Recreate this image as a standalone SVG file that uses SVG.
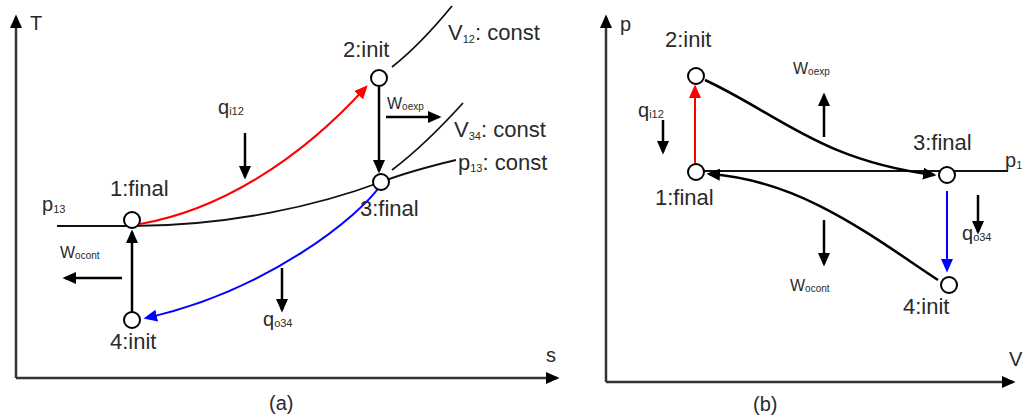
<svg xmlns="http://www.w3.org/2000/svg" width="1023" height="419" viewBox="0 0 1023 419">
<style>
text{font-family:"Liberation Sans",Arial,sans-serif;fill:#2a2a2a}
.lbl{font-size:22px}
.ax{font-size:20px}
.sub{font-size:11px}
.wl{font-size:16px}
.ws{font-size:10px}
.axis{stroke:#333;stroke-width:2.5;fill:none}
.k{stroke:#000;stroke-width:2.5;fill:none}
.thin{stroke:#111;stroke-width:1.8;fill:none}
.red{stroke:#f00;stroke-width:2;fill:none}
.blue{stroke:#00f;stroke-width:2;fill:none}
.node{fill:#fff;stroke:#000;stroke-width:2}
</style>
<defs>
<marker id="ak" markerUnits="userSpaceOnUse" markerWidth="16" markerHeight="14" refX="11" refY="6" orient="auto"><path d="M0,0 L13.5,6 L0,12 z" fill="#000"/></marker>
<marker id="ar" markerUnits="userSpaceOnUse" markerWidth="16" markerHeight="14" refX="11" refY="6" orient="auto"><path d="M0,0 L13.5,6 L0,12 z" fill="#f00"/></marker>
<marker id="ab" markerUnits="userSpaceOnUse" markerWidth="16" markerHeight="14" refX="11" refY="6" orient="auto"><path d="M0,0 L13.5,6 L0,12 z" fill="#00f"/></marker>
</defs>
<g id="panel-a-axes">
<path class="axis" d="M16,378 L16,17" marker-end="url(#ak)"/>
<path class="axis" d="M16,378 L557,378" marker-end="url(#ak)"/>
<text class="ax" x="30" y="30">T</text>
<text class="ax" x="546" y="362">s</text>
<text class="ax" x="269" y="410">(a)</text>
</g>
<g id="connectors-a">
<path class="thin" d="M57,226 L132,226 C230,226 320,205 381,182 C410,171 435,165 456,160"/>
<path class="thin" d="M392,67 Q420,45 452,6"/>
<path class="thin" d="M392,170 Q425,145 463,103"/>
<path class="red" d="M140,224 C220,210 300,160 366,87" marker-end="url(#ar)"/>
<path class="blue" d="M380,186 C360,215 270,290 146,318" marker-end="url(#ab)"/>
<path class="k" d="M132,312 L132,232" marker-end="url(#ak)"/>
<path class="k" d="M379,87 L379,171" marker-end="url(#ak)"/>
<path class="k" d="M386,117 L439,117" marker-end="url(#ak)"/>
<path class="k" d="M122,278 L65,278" marker-end="url(#ak)"/>
<path class="k" d="M245,133 L245,177" marker-end="url(#ak)"/>
<path class="k" d="M282,268 L282,310" marker-end="url(#ak)"/>
</g>
<g id="a-node1"><circle class="node" cx="132" cy="220" r="8"/><text class="lbl" x="110" y="196">1:final</text></g>
<g id="a-node2"><circle class="node" cx="379" cy="78" r="8"/><text class="lbl" x="343" y="57">2:init</text></g>
<g id="a-node3"><circle class="node" cx="381" cy="182" r="8"/><text class="lbl" x="360" y="216">3:final</text></g>
<g id="a-node4"><circle class="node" cx="132" cy="320" r="8"/><text class="lbl" x="110" y="349">4:init</text></g>
<g id="a-labels">
<text class="lbl" x="448" y="40">V<tspan class="sub" dy="3">12</tspan><tspan dy="-3">: const</tspan></text>
<text class="lbl" x="454" y="137">V<tspan class="sub" dy="3">34</tspan><tspan dy="-3">: const</tspan></text>
<text class="lbl" x="458" y="170">p<tspan class="sub" dy="2">13</tspan><tspan dy="-2">: const</tspan></text>
<text class="ax" x="42" y="211">p<tspan class="sub" dy="2">13</tspan></text>
<text class="wl" x="387" y="109">W<tspan class="ws" dy="1">oexp</tspan></text>
<text class="wl" x="60" y="258">W<tspan class="ws" dy="1">ocont</tspan></text>
<text class="ax" x="218" y="114">q<tspan class="sub" dy="1">i12</tspan></text>
<text class="ax" x="263" y="326">q<tspan class="sub" dy="1">o34</tspan></text>
</g>
<g id="panel-b-axes">
<path class="axis" d="M606,382 L606,17" marker-end="url(#ak)"/>
<path class="axis" d="M606,382 L1013,382" marker-end="url(#ak)"/>
<text class="ax" x="620" y="31">p</text>
<text class="ax" x="1009" y="366">V</text>
<text class="ax" x="753" y="411">(b)</text>
</g>
<g id="connectors-b">
<path class="thin" d="M704,171 L1008,171"/>
<path class="red" d="M695,164 L695,87" marker-end="url(#ar)"/>
<path class="k" d="M705,80 C780,115 820,160 934,175" marker-end="url(#ak)"/>
<path class="k" d="M938,280 C870,235 800,180 709,174" marker-end="url(#ak)"/>
<path class="blue" d="M947,191 L947,270" marker-end="url(#ab)"/>
<path class="k" d="M663,120 L663,152" marker-end="url(#ak)"/>
<path class="k" d="M978,195 L978,232" marker-end="url(#ak)"/>
<path class="k" d="M824,137 L824,95" marker-end="url(#ak)"/>
<path class="k" d="M824,220 L824,264" marker-end="url(#ak)"/>
</g>
<g id="b-node1"><circle class="node" cx="696" cy="172" r="8"/><text class="lbl" x="655" y="205">1:final</text></g>
<g id="b-node2"><circle class="node" cx="696" cy="76" r="8"/><text class="lbl" x="665" y="47">2:init</text></g>
<g id="b-node3"><circle class="node" cx="947" cy="175" r="8"/><text class="lbl" x="913" y="150">3:final</text></g>
<g id="b-node4"><circle class="node" cx="949" cy="285" r="8"/><text class="lbl" x="903" y="314">4:init</text></g>
<g id="b-labels">
<text class="ax" x="1005" y="167">p<tspan class="sub" dy="2">1</tspan></text>
<text class="ax" x="638" y="117">q<tspan class="sub" dy="1">i12</tspan></text>
<text class="ax" x="962" y="240">q<tspan class="sub" dy="1">o34</tspan></text>
<text class="wl" x="793" y="74">W<tspan class="ws" dy="1">oexp</tspan></text>
<text class="wl" x="790" y="291">W<tspan class="ws" dy="1">ocont</tspan></text>
</g>
</svg>
